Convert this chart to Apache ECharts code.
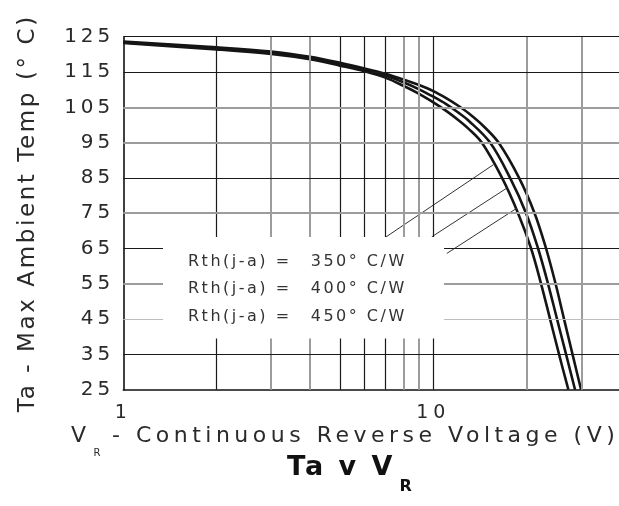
<!DOCTYPE html>
<html><head><meta charset="utf-8">
<script src="https://cdn.jsdelivr.net/npm/echarts@6/dist/echarts.min.js"></script>
<style>html,body{margin:0;padding:0;background:#fff}#c{width:619px;height:506px}</style>
</head><body><div id="c"></div>
<script>
// widen text spacing like the scanned datasheet (per font size)
(function(){
  var P = window.CanvasRenderingContext2D && CanvasRenderingContext2D.prototype;
  if (!P || !('letterSpacing' in P)) return;
  var map = {10:0, 16:2.5, 19:5, 20:4, 22:4.5, 23:2.6, 27:3};
  function ls(ctx){ var m=/(\d+(?:\.\d+)?)px/.exec(ctx.font||''); var s=m?Math.round(parseFloat(m[1])):0; ctx.letterSpacing=(map[s]||0)+'px'; }
  var f=P.fillText, st=P.strokeText, mt=P.measureText;
  P.fillText=function(){ ls(this); return f.apply(this,arguments); };
  P.strokeText=function(){ ls(this); return st.apply(this,arguments); };
  P.measureText=function(){ ls(this); return mt.apply(this,arguments); };
})();

// ---- data ----
const seriesNames = ['350° C/W', '400° C/W', '450° C/W'];
const vr350 = [1,2,3,4,5,6,7,8,9,10,11,12,13,14.5,16.23,18.9,21.21,23.1,24.79,26.4,28.12,29.96];
const ta350 = [123.6,122.0,120.8,119.3,117.6,116.0,114.5,112.9,111.3,109.6,107.6,105.5,103.3,99.7,95,85,75,65,55,45,35,25];
const vr400 = [1,2,3,4,5,6,7,8,9,10,11,12,13,15.24,17.68,19.91,21.77,23.44,25.06,26.8,28.65];
const ta400 = [123.4,121.7,120.5,118.9,117.2,115.6,114.0,112.1,110.1,108.0,105.9,103.6,101.2,95,85,75,65,55,45,35,25];
const vr450 = [1,2,3,4,5,6,7,8,9,10,11,12,13,14.33,16.66,18.76,20.67,22.26,23.8,25.44,27.26];
const ta450 = [123.2,121.4,120.1,118.6,116.8,115.2,113.4,111.1,108.8,106.4,104.0,101.5,98.9,95,85,75,65,55,45,35,25];
// leader lines from the legend text to the curves (V, Ta) pairs
const leaderV = [[7.04,15.6],[9.88,17.25],[11.05,18.58]];
const leaderT = [[68.3,88.7],[68.3,82.1],[63.6,76.4]];
// grid values
const xGridValues = [2,3,4,5,6,7,8,9,10,20,30];
const yGridValues = [35,45,55,65,75,85,95,105,115,125];
const xTickLabels = [1,10];

// ---- styles ----
const FONT = 'DejaVu Sans';
const DARK = {color:'#1a1a1a', width:1.2, type:'solid'};
const GRAY = {color:'#9c9c9c', width:2, type:'solid'};
const LIGHT = {color:'#bdbdbd', width:1.2, type:'solid'};
const xGridStyle = [DARK,GRAY,GRAY,DARK,DARK,DARK,GRAY,GRAY,DARK,GRAY,GRAY];
const yGridStyle = [DARK,LIGHT,GRAY,DARK,GRAY,DARK,GRAY,GRAY,DARK,DARK];
const curveStyle = {color:'#151515', width:2.6};

const gridMarks = [];
xGridValues.forEach((v,i)=>gridMarks.push({xAxis:v, lineStyle:xGridStyle[i]}));
yGridValues.forEach((v,i)=>gridMarks.push({yAxis:v, lineStyle:yGridStyle[i]}));

function pairs(xs, ys){ return xs.map((x,i)=>[x, ys[i]]); }

const chart = echarts.init(document.getElementById('c'), null, {renderer:'canvas'});
chart.setOption({
  animation:false,
  backgroundColor:'#fff',
  title:{
    text:'{a|Ta v V}{b|R}', left:287, top:453, padding:0,
    textStyle:{rich:{
      a:{fontFamily:FONT, fontSize:27, fontWeight:'bold', color:'#111', lineHeight:30, verticalAlign:'top'},
      b:{fontFamily:FONT, fontSize:16, fontWeight:'bold', color:'#111', padding:[25,0,0,4]}
    }}
  },
  grid:{left:123.3, width:496.7, top:36.7, bottom:116.3, containLabel:false, outerBoundsMode:'none'},
  legend:{
    data:seriesNames, orient:'vertical', left:163, top:237,
    padding:[15.7,13.3,12.9,20], itemWidth:0, itemHeight:18, itemGap:8.7,
    icon:'none', selectedMode:false, backgroundColor:'#fff', z:10,
    formatter:n=>'{a|Rth(j-a) =}{b|'+n+'}',
    textStyle:{fontFamily:FONT, fontSize:16, color:'#333', rich:{
      a:{fontFamily:FONT, fontSize:16, color:'#333', width:122.7, lineHeight:18},
      b:{fontFamily:FONT, fontSize:16, color:'#333', width:120, lineHeight:18}
    }}
  },
  xAxis:{
    type:'log', logBase:10, min:1, max:40,
    axisLine:{show:true, lineStyle:{color:'#111', width:1.6}},
    axisTick:{show:false}, splitLine:{show:false}, minorSplitLine:{show:false},
    axisLabel:{fontFamily:FONT, fontSize:19, color:'#2a2a2a', margin:11,
      formatter:v=>xTickLabels.some(t=>Math.abs(t-v)<1e-6)?String(Math.round(v)):''},
    name:'{v|V}{r|R}{t| - Continuous Reverse Voltage (V)}',
    nameLocation:'middle', nameGap:33.8, nameMoveOverlap:false,
    nameTextStyle:{padding:[0,53,0,0], rich:{
      v:{fontFamily:FONT, fontSize:22, color:'#2a2a2a', lineHeight:26, verticalAlign:'top'},
      r:{fontFamily:FONT, fontSize:10, color:'#2a2a2a', padding:[25,0,0,3]},
      t:{fontFamily:FONT, fontSize:22, color:'#2a2a2a', lineHeight:26, verticalAlign:'top'}
    }}
  },
  yAxis:{
    type:'value', min:25, max:125, interval:10,
    axisLine:{show:true, lineStyle:{color:'#111', width:1.6}},
    axisTick:{show:false}, splitLine:{show:false},
    axisLabel:{fontFamily:FONT, fontSize:20, color:'#2a2a2a', margin:9},
    name:'Ta - Max Ambient Temp (° C)', nameLocation:'middle', nameGap:82, nameMoveOverlap:false,
    nameTextStyle:{fontFamily:FONT, fontSize:23, color:'#2a2a2a'}
  },
  series:[
    {name:'grid', type:'line', data:[], z:1, silent:true,
     markLine:{silent:true, symbol:'none', animation:false, label:{show:false}, emphasis:{disabled:true}, data:gridMarks}},
    {name:seriesNames[0], type:'line', data:pairs(vr350,ta350), smooth:0.35, showSymbol:false, lineStyle:curveStyle, itemStyle:{color:'#151515'}, z:3, silent:true},
    {name:seriesNames[1], type:'line', data:pairs(vr400,ta400), smooth:0.35, showSymbol:false, lineStyle:curveStyle, itemStyle:{color:'#151515'}, z:3, silent:true},
    {name:seriesNames[2], type:'line', data:pairs(vr450,ta450), smooth:0.35, showSymbol:false, lineStyle:curveStyle, itemStyle:{color:'#151515'}, z:3, silent:true},
    ...leaderV.map((vs,i)=>({name:'leader'+i, type:'line', data:pairs(vs, leaderT[i]), showSymbol:false, lineStyle:{color:'#333', width:1}, z:3, silent:true}))
  ]
});
</script>
</body></html>
